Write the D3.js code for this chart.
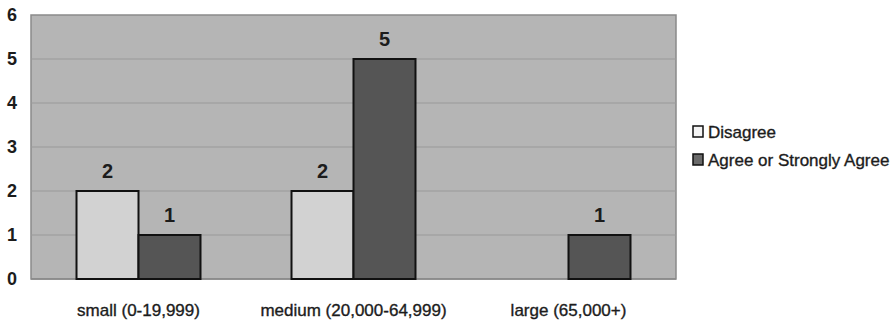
<!DOCTYPE html>
<html>
<head>
<meta charset="utf-8">
<script src="https://cdn.jsdelivr.net/npm/d3@7/dist/d3.min.js"></script>
<style>
  html, body { margin: 0; padding: 0; background: #fff; }
  svg { display: block; font-family: "Liberation Sans", Arial, sans-serif; }
</style>
</head>
<body>
<svg id="chart" width="895" height="326"></svg>
<script>
// Survey responses by community size
const categories = ["small (0-19,999)", "medium (20,000-64,999)", "large (65,000+)"];
const seriesNames = ["Disagree", "Agree or Strongly Agree"];
const disagree = [2, 2, null];
const agree = [1, 5, 1];
const yTicks = [0, 1, 2, 3, 4, 5, 6];
const seriesColors = ["#d2d2d2", "#555555"];

const svg = d3.select("#chart");
const plot = { left: 31, top: 15, right: 676, bottom: 279 };
const textColor = "#1c1c1c";

const x = d3.scaleBand().domain(categories).range([plot.left, plot.right]).paddingInner(0).paddingOuter(0);
const xs = d3.scaleBand().domain(seriesNames).range([0, x.bandwidth()]).paddingInner(0).paddingOuter(0.734);
const y = d3.scaleLinear().domain([0, 6]).range([plot.bottom, plot.top]);

// plot background
svg.append("rect")
  .attr("x", plot.left).attr("y", plot.top)
  .attr("width", plot.right - plot.left).attr("height", plot.bottom - plot.top)
  .attr("fill", "#b5b5b5").attr("stroke", "#8a8a8a").attr("stroke-width", 1.5);

// horizontal gridlines
svg.append("g").selectAll("line")
  .data(yTicks.filter(t => t > 0 && t < 6))
  .join("line")
  .attr("x1", plot.left).attr("x2", plot.right)
  .attr("y1", d => y(d)).attr("y2", d => y(d))
  .attr("stroke", "#999").attr("stroke-width", 1.2);

// baseline
svg.append("line")
  .attr("x1", plot.left).attr("x2", plot.right)
  .attr("y1", y(0)).attr("y2", y(0))
  .attr("stroke", "#8a8a8a").attr("stroke-width", 1.5);

// y axis tick labels
const yAxis = d3.axisLeft(y).tickValues(yTicks).tickSize(0).tickPadding(14).tickFormat(d3.format("d"));
const yg = svg.append("g").attr("transform", `translate(${plot.left},0)`).call(yAxis);
yg.select(".domain").remove();
yg.selectAll("text").attr("font-size", 18).attr("font-weight", "bold").attr("fill", textColor)
  .attr("font-family", "Liberation Sans, Arial, sans-serif");

// x axis category labels
const xAxis = d3.axisBottom(x).tickSize(0).tickPadding(25);
const xg = svg.append("g").attr("transform", `translate(0,${plot.bottom})`).call(xAxis);
xg.select(".domain").remove();
xg.selectAll("text").attr("font-size", 17).attr("fill", textColor)
  .attr("stroke", textColor).attr("stroke-width", 0.35)
  .attr("font-family", "Liberation Sans, Arial, sans-serif");

// bars
const rows = [];
categories.forEach((c, i) => {
  [disagree, agree].forEach((arr, s) => {
    if (arr[i] != null) rows.push({ cat: c, series: seriesNames[s], value: arr[i], color: seriesColors[s] });
  });
});

svg.append("g").selectAll("rect")
  .data(rows)
  .join("rect")
  .attr("x", d => x(d.cat) + xs(d.series))
  .attr("y", d => y(d.value))
  .attr("width", xs.bandwidth())
  .attr("height", d => y(0) - y(d.value))
  .attr("fill", d => d.color)
  .attr("stroke", "#111").attr("stroke-width", 2);

// value labels
svg.append("g").selectAll("text")
  .data(rows)
  .join("text")
  .attr("x", d => x(d.cat) + xs(d.series) + xs.bandwidth() / 2)
  .attr("y", d => y(d.value) - 13)
  .attr("text-anchor", "middle")
  .attr("font-size", 20).attr("font-weight", "bold").attr("fill", textColor)
  .text(d => d.value);

// legend
const legend = svg.append("g").attr("transform", "translate(693,126)");
seriesNames.forEach((name, i) => {
  const g = legend.append("g").attr("transform", `translate(0,${i * 28})`);
  g.append("rect").attr("x", 0).attr("y", 0).attr("width", 10).attr("height", 11)
    .attr("fill", i === 0 ? "#f4f4f4" : "#6a6a6a").attr("stroke", "#111").attr("stroke-width", 1.5);
  g.append("text").attr("x", 15).attr("y", 12).attr("font-size", 17).attr("fill", textColor)
    .attr("stroke", textColor).attr("stroke-width", 0.35).text(name);
});
</script>
</body>
</html>
